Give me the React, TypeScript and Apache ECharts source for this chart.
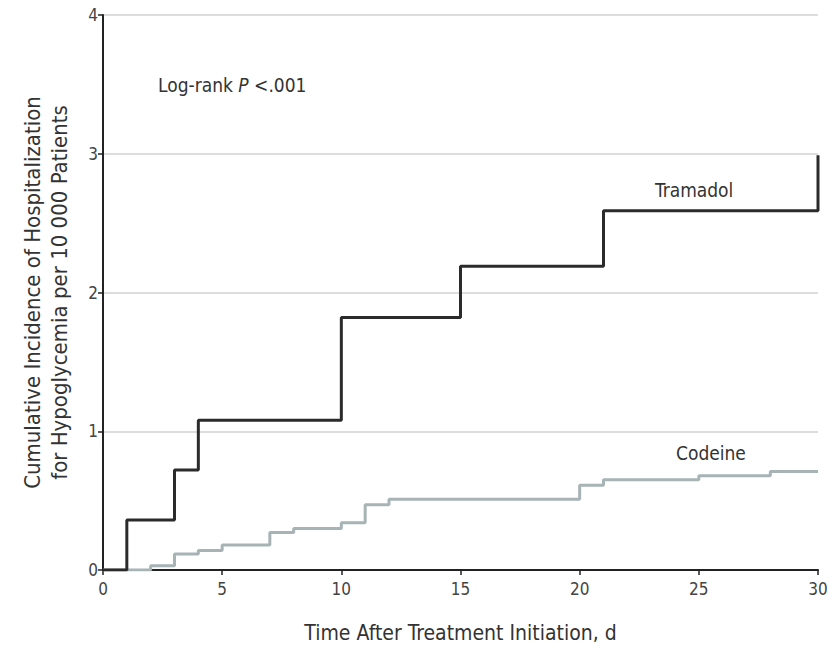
import React, { useEffect, useRef } from "react";
import * as echarts from "echarts";

const xTicks = [0, 5, 10, 15, 20, 25, 30];
const yTicks = [0, 1, 2, 3, 4];
const tramadolDays = [0, 1, 3, 4, 10, 15, 21, 30];
const tramadolValues = [0, 0.36, 0.72, 1.08, 1.82, 2.19, 2.59, 2.99];
const codeineDays = [0, 2, 3, 4, 5, 7, 8, 10, 11, 12, 20, 21, 25, 28, 30];
const codeineValues = [0, 0.03, 0.115, 0.14, 0.18, 0.27, 0.3, 0.34, 0.47, 0.51, 0.61, 0.65, 0.68, 0.71, 0.71];

const FONT = "'Liberation Sans Narrow', 'DejaVu Sans Condensed', 'Roboto Condensed', 'Liberation Sans', sans-serif";

export default function App() {
  const ref = useRef<HTMLDivElement>(null);
  useEffect(() => {
    if (!ref.current) return;
    const chart = echarts.init(ref.current, undefined, { renderer: "svg" });
    const tram = tramadolDays.map((d, i) => [d, tramadolValues[i]]);
    const cod = codeineDays.map((d, i) => [d, codeineValues[i]]);
    chart.setOption({
      animation: false,
      backgroundColor: "#ffffff",
      grid: { left: 103, right: 21, top: 15, bottom: 78, containLabel: false },
      xAxis: {
        type: "value",
        min: xTicks[0],
        max: xTicks[xTicks.length - 1],
        interval: 5,
        name: "Time After Treatment Initiation, d",
        nameLocation: "middle",
        nameGap: 52,
        nameTextStyle: { fontFamily: FONT, fontSize: 21, color: "#333" },
        axisLine: { lineStyle: { color: "#222", width: 2 } },
        axisTick: { show: true, length: 5, lineStyle: { color: "#222", width: 1.5 } },
        axisLabel: { fontFamily: FONT, fontSize: 17, color: "#444", margin: 10 },
        splitLine: { show: false },
      },
      yAxis: {
        type: "value",
        min: yTicks[0],
        max: yTicks[yTicks.length - 1],
        interval: 1,
        name: "Cumulative Incidence of Hospitalization\nfor Hypoglycemia per 10 000 Patients",
        nameLocation: "middle",
        nameGap: 30,
        nameTextStyle: { fontFamily: FONT, fontSize: 22, color: "#333", lineHeight: 27 },
        axisLine: { show: true, lineStyle: { color: "#222", width: 2 } },
        axisTick: { show: true, length: 5, lineStyle: { color: "#222", width: 1.5 } },
        axisLabel: { fontFamily: FONT, fontSize: 17, color: "#444", margin: 5 },
        splitLine: { show: true, lineStyle: { color: "#dddddd", width: 2 } },
      },
      series: [
        {
          name: "Tramadol",
          type: "line",
          step: "end",
          data: tram,
          showSymbol: false,
          lineStyle: { color: "#2b2b2b", width: 3 },
          z: 3,
        },
        {
          name: "Codeine",
          type: "line",
          step: "end",
          data: cod,
          showSymbol: false,
          lineStyle: { color: "#a7b3b5", width: 3 },
          z: 2,
        },
      ],
      graphic: [
        {
          type: "text",
          left: 158,
          top: 75,
          style: {
            text: "Log-rank {i|P} <.001",
            fontFamily: FONT,
            fontSize: 19,
            fill: "#333",
            rich: { i: { fontStyle: "italic", fontFamily: FONT, fontSize: 19, fill: "#333" } },
          },
        },
        {
          type: "text",
          left: 655,
          top: 180,
          style: { text: "Tramadol", fontFamily: FONT, fontSize: 19, fill: "#333" },
        },
        {
          type: "text",
          left: 676,
          top: 443,
          style: { text: "Codeine", fontFamily: FONT, fontSize: 19, fill: "#333" },
        },
      ],
    });
    return () => chart.dispose();
  }, []);
  return (
    <div
      ref={ref}
      style={{ position: "fixed", left: 0, top: 0, width: 839, height: 648 }}
    />
  );
}
